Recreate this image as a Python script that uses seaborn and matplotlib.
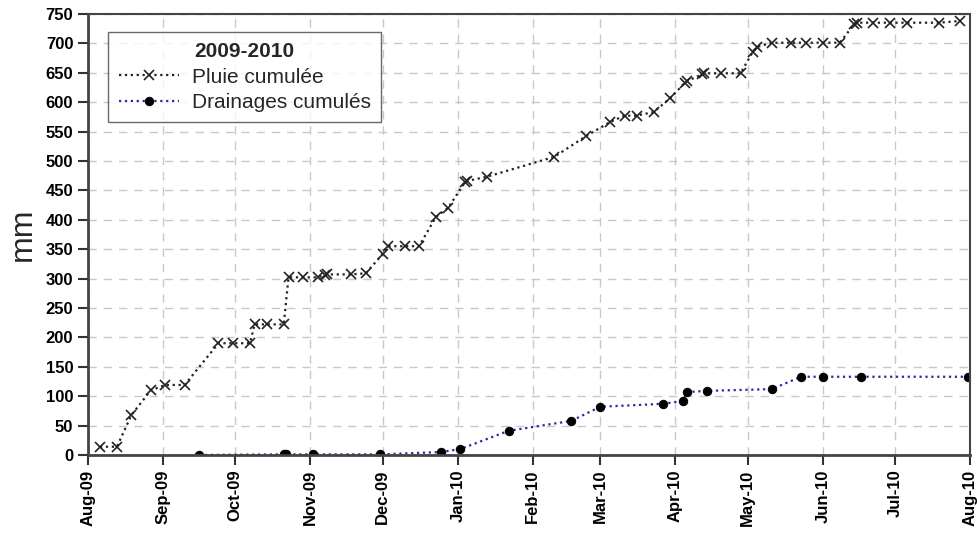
import pandas as pd
import numpy as np
import matplotlib
matplotlib.use('Agg')
import matplotlib.pyplot as plt
import matplotlib.dates as mdates
import seaborn as sns

# Cumulative rainfall (mm)
pluie_dates = ['2009-08-06', '2009-08-13', '2009-08-19', '2009-08-27', '2009-09-02', '2009-09-10',
               '2009-09-24', '2009-09-30', '2009-10-07', '2009-10-09', '2009-10-14', '2009-10-21',
               '2009-10-23', '2009-10-29', '2009-11-04', '2009-11-07', '2009-11-08', '2009-11-18',
               '2009-11-24', '2009-12-01', '2009-12-03', '2009-12-10', '2009-12-16', '2009-12-23',
               '2009-12-28', '2010-01-04', '2010-01-05', '2010-01-13', '2010-02-10', '2010-02-23',
               '2010-03-05', '2010-03-11', '2010-03-16', '2010-03-23', '2010-03-30', '2010-04-05',
               '2010-04-06', '2010-04-12', '2010-04-13', '2010-04-20', '2010-04-28', '2010-05-03',
               '2010-05-05', '2010-05-11', '2010-05-19', '2010-05-25', '2010-06-01', '2010-06-08',
               '2010-06-14', '2010-06-15', '2010-06-22', '2010-06-29', '2010-07-06', '2010-07-19',
               '2010-07-28']
pluie_mm = [14, 14, 68, 110, 119, 119,
            190, 190, 190, 222, 222, 222,
            302, 302, 302, 306, 307, 307,
            309, 342, 355, 355, 355, 405,
            420, 464, 466, 473, 507, 542,
            566, 577, 577, 583, 607, 633,
            636, 647, 649, 649, 649, 685,
            694, 701, 701, 701, 701, 701,
            732, 735, 735, 735, 735, 735,
            738]

# Cumulative drainage (mm)
drain_dates = ['2009-09-16', '2009-10-21', '2009-10-22', '2009-11-02', '2009-11-30', '2009-12-25',
               '2010-01-02', '2010-01-22', '2010-02-17', '2010-03-01', '2010-03-27', '2010-04-04',
               '2010-04-06', '2010-04-14', '2010-05-11', '2010-05-23', '2010-06-01', '2010-06-17',
               '2010-07-31']
drain_mm = [0, 1, 1, 1, 1, 5,
            10, 41, 58, 82, 87, 92,
            107, 109, 112, 133, 133, 133,
            133]

pluie = pd.DataFrame({'date': pd.to_datetime(pluie_dates), 'mm': pluie_mm})
drain = pd.DataFrame({'date': pd.to_datetime(drain_dates), 'mm': drain_mm})

sns.set_style('white')
plt.rcParams['font.family'] = ['Liberation Sans', 'DejaVu Sans']

fig = plt.figure(figsize=(9.77, 5.34), dpi=100)
ax = fig.add_axes([0.090, 0.148, 0.903, 0.826])

sns.lineplot(data=pluie, x='date', y='mm', ax=ax, color='#222222', linestyle=':',
             linewidth=1.6, marker='x', markersize=7, markeredgewidth=1.2,
             markeredgecolor='#222222', label='Pluie cumulée')
sns.lineplot(data=drain, x='date', y='mm', ax=ax, color='#2a2a9a', linestyle=':',
             linewidth=1.6, marker='o', markersize=6, markerfacecolor='black',
             markeredgecolor='black', label='Drainages cumulés')

ax.set_xlim(pd.Timestamp('2009-08-01'), pd.Timestamp('2010-08-01'))
ax.set_ylim(0, 750)
ax.set_yticks(np.arange(0, 751, 50))
ax.xaxis.set_major_locator(mdates.MonthLocator())
ax.xaxis.set_major_formatter(mdates.DateFormatter('%b-%y'))

ax.grid(True, linestyle=(0, (6, 5)), color='#c8c8c8', linewidth=1)
for lbl in ax.get_xticklabels():
    lbl.set_rotation(90)
    lbl.set_fontweight('bold')
for lbl in ax.get_yticklabels():
    lbl.set_fontweight('bold')
ax.tick_params(axis='both', direction='out', length=7, width=1.5, colors='#333333',
               labelsize=12, labelcolor='black', left=True, bottom=True)

for side in ['left', 'bottom', 'top', 'right']:
    ax.spines[side].set_color('#444444')
    ax.spines[side].set_linewidth(1.5)
ax.spines['bottom'].set_linewidth(2)
ax.spines['left'].set_linewidth(2)

ax.set_xlabel('')
ax.set_ylabel('mm', fontsize=23, labelpad=6)

leg = ax.legend(loc='upper left', bbox_to_anchor=(0.023, 0.959), title='2009-2010',
                fontsize=15, title_fontproperties={'weight': 'bold', 'size': 15},
                frameon=True, fancybox=False, edgecolor='#444444', borderpad=0.5,
                borderaxespad=0, handlelength=2.9, labelspacing=0.3, handletextpad=0.6)
leg.get_frame().set_linewidth(1)

fig.savefig('out.png', dpi=100)
